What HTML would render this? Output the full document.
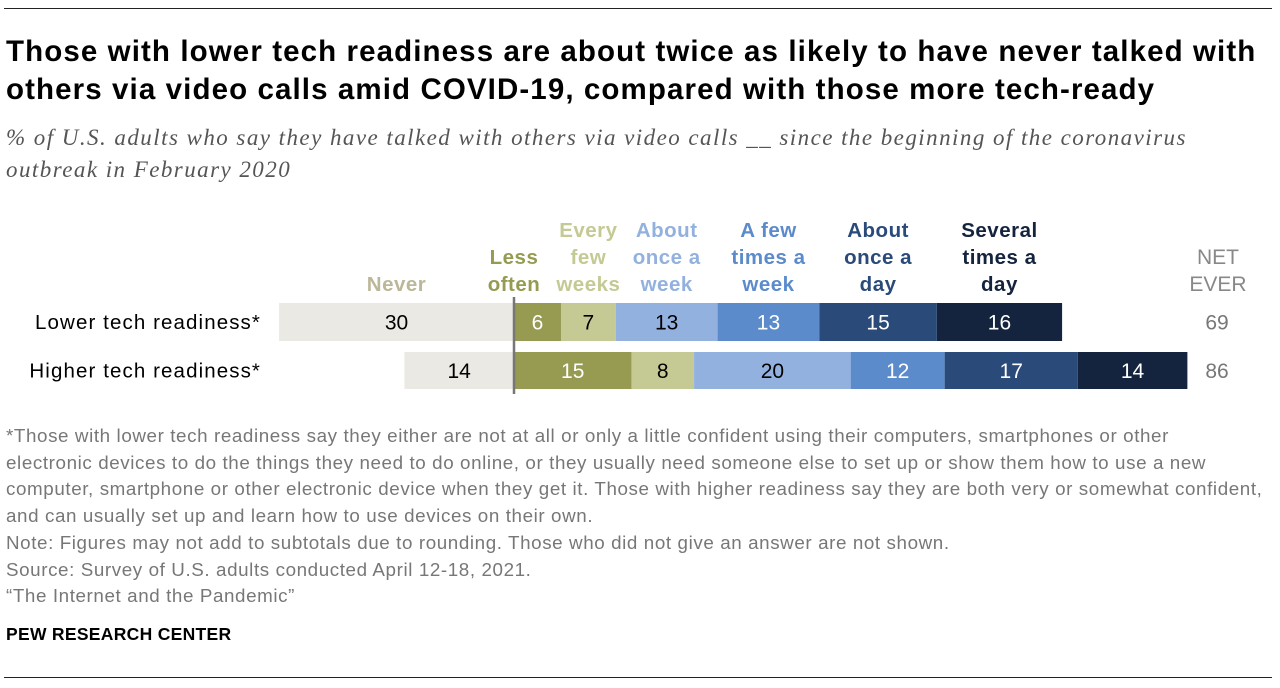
<!DOCTYPE html>
<html><head><meta charset="utf-8"><style>
body{margin:0;width:1280px;height:688px;background:#fff;font-family:"Liberation Sans",Arial,sans-serif;position:relative;overflow:hidden}
.rule{position:absolute;left:4px;width:1268px;height:1px;background:#222}
h1{position:absolute;left:6px;top:33px;margin:0;font-size:29.5px;line-height:38px;font-weight:bold;color:#000;letter-spacing:1.1px;white-space:nowrap}
.sub{position:absolute;left:6px;top:122px;font-family:"Liberation Serif",serif;font-style:italic;font-size:23px;line-height:32px;color:#555;letter-spacing:1.45px;white-space:nowrap}
.foot{position:absolute;left:6px;top:423px;font-size:18.8px;line-height:26.7px;color:#777;letter-spacing:0.6px;white-space:nowrap}
.pew{position:absolute;left:6px;top:624px;font-size:17.5px;font-weight:bold;color:#000;letter-spacing:0.3px}
</style></head><body>
<div class="rule" style="top:8px"></div>
<h1>Those with lower tech readiness are about twice as likely to have never talked with<br>others via video calls amid COVID-19, compared with those more tech-ready</h1>
<div class="sub">% of U.S. adults who say they have talked with others via video calls __ since the beginning of the coronavirus<br>outbreak in February 2020</div>
<svg id="chart" width="1280" height="420" style="position:absolute;left:0;top:0"></svg>
<div class="foot">*Those with lower tech readiness say they either are not at all or only a little confident using their computers, smartphones or other<br>electronic devices to do the things they need to do online, or they usually need someone else to set up or show them how to use a new<br>computer, smartphone or other electronic device when they get it. Those with higher readiness say they are both very or somewhat confident,<br>and can usually set up and learn how to use devices on their own.<br>Note: Figures may not add to subtotals due to rounding. Those who did not give an answer are not shown.<br>Source: Survey of U.S. adults conducted April 12-18, 2021.<br>“The Internet and the Pandemic”</div>
<div class="pew">PEW RESEARCH CENTER</div>
<div class="rule" style="top:677px"></div>
<script>
const rows=["Lower tech readiness*","Higher tech readiness*"];
const never=[30,14];
const lessOften=[6,15];
const everyFew=[7,8];
const onceWeek=[13,20];
const fewWeek=[13,12];
const onceDay=[15,17];
const severalDay=[16,14];
const netEver=[69,86];
const catLabels=[["Never"],["Less","often"],["Every","few","weeks"],["About","once a","week"],["A few","times a","week"],["About","once a","day"],["Several","times a","day"]];
const NS="http://www.w3.org/2000/svg";
const svg=document.getElementById('chart');
const x0=514, k=7.83;
const xs=v=>v*k;
const rowY=[303,352], rowH=[38,37];
const fills=["#ebe9e3","#969b51","#c5c994","#92b1de","#5b8bcb","#2a4b7a","#14243e"];
const txtCol=["#000","#fff","#000","#000","#fff","#fff","#fff"];
const hdrCol=["#bdb79a","#969b51","#c5c994","#92b1de","#5b8bcb","#2a4b7a","#14243e"];
function el(t,a){const e=document.createElementNS(NS,t);for(const q in a)e.setAttribute(q,a[q]);svg.appendChild(e);return e;}
const series=[lessOften,everyFew,onceWeek,fewWeek,onceDay,severalDay];
const hdrX=[];
rows.forEach((r,i)=>{
  const y=rowY[i],h=rowH[i];
  const lab=el('text',{x:261,y:y+h/2+7,'text-anchor':'end','font-size':20.5,'letter-spacing':1.1,fill:'#000'});lab.textContent=r;
  
  
  const w=xs(never[i]);
  const nb=el('rect',{x:x0-w,y:y,width:w,height:h,fill:fills[0]});
  
  
  const nt=el('text',{x:x0-w/2,y:y+h/2+7.5,'text-anchor':'middle','font-size':21,fill:txtCol[0]});nt.textContent=never[i];
  if(i===0)hdrX[0]=x0-w/2;
  let cx=x0;
  series.forEach((s,j)=>{
    const sw=xs(s[i]);
    const b=el('rect',{x:cx,y:y,width:sw,height:h,fill:fills[j+1]});
    
    
    const t=el('text',{x:cx+sw/2,y:y+h/2+7.5,'text-anchor':'middle','font-size':21,fill:txtCol[j+1]});t.textContent=s[i];
    if(i===0)hdrX[j+1]=cx+sw/2;
    cx+=sw;
  });
  const n=el('text',{x:1217,y:y+h/2+7.5,'text-anchor':'middle','font-size':21,fill:'#777'});n.textContent=netEver[i];
  
  
});
const zl=el('line',{x1:x0,x2:x0,y1:297,y2:394,stroke:'#777','stroke-width':2.5});


hdrX[1]=514;
catLabels.forEach((ls,j)=>{
  ls.forEach((l,m)=>{
    const t=el('text',{x:hdrX[j],y:291-(ls.length-1-m)*27,'text-anchor':'middle','font-size':20.5,'font-weight':'bold','letter-spacing':0.5,fill:hdrCol[j]});
    t.textContent=l;
    
    
  });
});
["NET","EVER"].forEach((l,m)=>{const t=el('text',{x:1218,y:264+m*27,'text-anchor':'middle','font-size':21,fill:'#888'});t.textContent=l;

});
</script>
</body></html>
